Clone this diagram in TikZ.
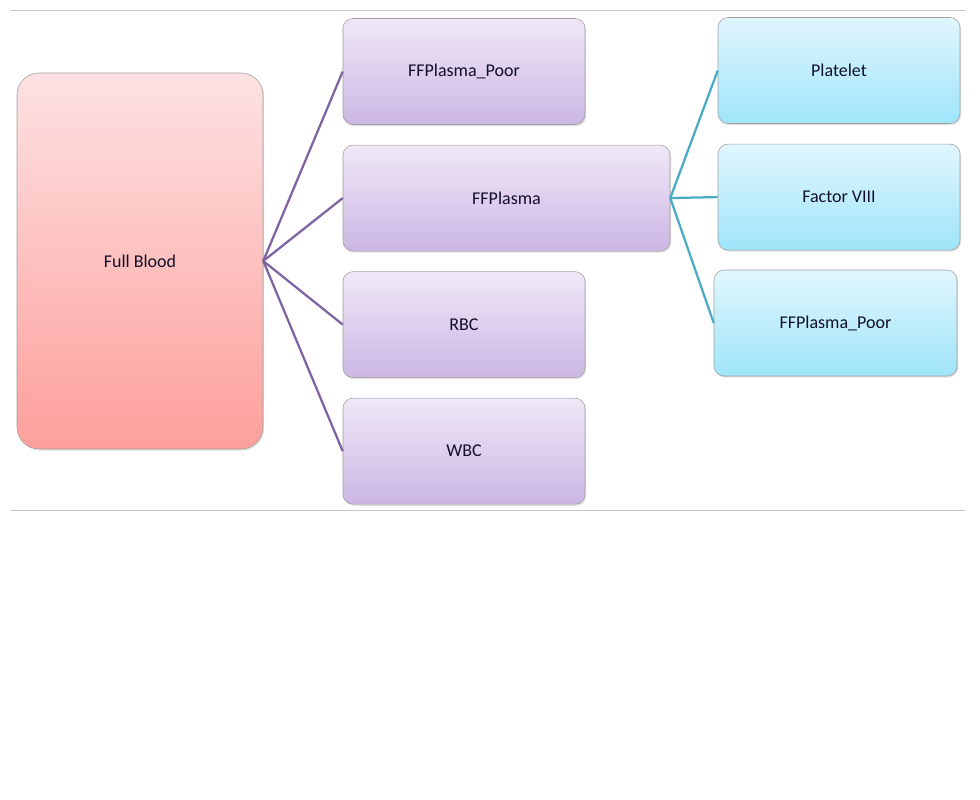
\documentclass[tikz,border=0pt]{standalone}
\usepackage{fontspec}
\setmainfont{Carlito}
\usetikzlibrary{positioning, shadows}

\definecolor{pinktop}{HTML}{FDE2E3}
\definecolor{pinkbot}{HTML}{FD9F9B}
\definecolor{lilactop}{HTML}{EFE8F7}
\definecolor{lilacbot}{HTML}{CCB7E4}
\definecolor{skytop}{HTML}{E1F6FD}
\definecolor{skybot}{HTML}{9FE5F9}
\definecolor{lilacline}{HTML}{7D63A1}
\definecolor{skyline}{HTML}{4BAAC4}
\definecolor{inktext}{HTML}{10102A}

\begin{document}
\begin{tikzpicture}[node distance=0.5cm, auto]
\tikzset{
    box/.style={rectangle, rounded corners=0.25cm, draw=gray!75, thin, minimum width=6.05cm, minimum height=2.65cm, text centered, text=inktext, font=\fontsize{12.8}{15}\selectfont, drop shadow={shadow xshift=0.03cm, shadow yshift=-0.04cm, opacity=0.25}},
    bloodbox/.style={box, rounded corners=0.55cm, top color=pinktop, bottom color=pinkbot, minimum width=6.15cm, minimum height=9.4cm},
    partbox/.style={box, top color=lilactop, bottom color=lilacbot},
    subbox/.style={box, top color=skytop, bottom color=skybot},
    partline/.style={draw=lilacline, line width=1.6pt},
    subline/.style={draw=skyline, line width=1.6pt},
    rule/.style={draw=gray!45, line width=0.7pt}
}
\useasboundingbox (0,0) rectangle (24.5,-20);
\draw[rule] (0.275,-0.25) -- (24.125,-0.25);
\draw[rule] (0.275,-12.75) -- (24.125,-12.75);

\node[bloodbox] (blood) at (3.5,-6.525) {Full Blood};
\node[partbox] (ppoor) at (11.6,-1.7875) {FFPlasma\_Poor};
\node[partbox, minimum width=8.175cm, below=of ppoor.south west, anchor=north west] (plasma) {FFPlasma};
\node[partbox, below=of plasma.south west, anchor=north west] (rbc) {RBC};
\node[partbox, below=of rbc] (wbc) {WBC};
\node[subbox] (platelet) at (20.975,-1.7625) {Platelet};
\node[subbox, below=of platelet] (factor) {Factor VIII};
\node[subbox, minimum width=6.075cm] (spoor) at (20.8875,-8.075) {FFPlasma\_Poor};

\draw[partline] (blood.east) -- (ppoor.west);
\draw[partline] (blood.east) -- (plasma.west);
\draw[partline] (blood.east) -- (rbc.west);
\draw[partline] (blood.east) -- (wbc.west);
\draw[subline] (plasma.east) -- (platelet.west);
\draw[subline] (plasma.east) -- (factor.west);
\draw[subline] (plasma.east) -- (spoor.west);
\end{tikzpicture}
\end{document}
